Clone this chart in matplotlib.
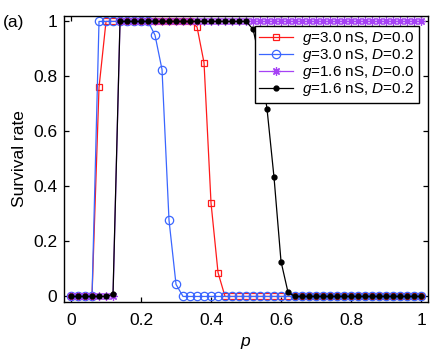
import matplotlib
matplotlib.use("Agg")
import matplotlib.pyplot as plt

plt.rcParams['font.family'] = ['Liberation Sans', 'DejaVu Sans']
plt.rcParams['mathtext.fontset'] = 'custom'
plt.rcParams['mathtext.it'] = 'Liberation Sans:italic'
plt.rcParams['mathtext.rm'] = 'Liberation Sans'

p = [0.00, 0.02, 0.04, 0.06, 0.08, 0.10, 0.12, 0.14, 0.16, 0.18,
     0.20, 0.22, 0.24, 0.26, 0.28, 0.30, 0.32, 0.34, 0.36, 0.38,
     0.40, 0.42, 0.44, 0.46, 0.48, 0.50, 0.52, 0.54, 0.56, 0.58,
     0.60, 0.62, 0.64, 0.66, 0.68, 0.70, 0.72, 0.74, 0.76, 0.78,
     0.80, 0.82, 0.84, 0.86, 0.88, 0.90, 0.92, 0.94, 0.96, 0.98, 1.00]

# g=3.0 nS, D=0.0
red = [0, 0, 0, 0, 0.76, 1, 1, 1, 1, 1,
       1, 1, 1, 1, 1, 1, 1, 1, 0.98, 0.85,
       0.34, 0.087, 0, 0, 0, 0, 0, 0, 0, 0,
       0, 0, 0, 0, 0, 0, 0, 0, 0, 0,
       0, 0, 0, 0, 0, 0, 0, 0, 0, 0, 0]
# g=3.0 nS, D=0.2
blue = [0, 0, 0, 0, 1, 1, 1, 1, 1, 1,
        1, 1, 0.95, 0.825, 0.277, 0.044, 0, 0, 0, 0,
        0, 0, 0, 0, 0, 0, 0, 0, 0, 0,
        0, 0, 0, 0, 0, 0, 0, 0, 0, 0,
        0, 0, 0, 0, 0, 0, 0, 0, 0, 0, 0]
# g=1.6 nS, D=0.0
purple = [0, 0, 0, 0, 0, 0, 0, 1, 1, 1,
          1, 1, 1, 1, 1, 1, 1, 1, 1, 1,
          1, 1, 1, 1, 1, 1, 1, 1, 1, 1,
          1, 1, 1, 1, 1, 1, 1, 1, 1, 1,
          1, 1, 1, 1, 1, 1, 1, 1, 1, 1, 1]
# g=1.6 nS, D=0.2
black = [0, 0, 0, 0, 0, 0, 0.008, 1, 1, 1,
         1, 1, 1, 1, 1, 1, 1, 1, 1, 1,
         1, 1, 1, 1, 1, 1, 0.972, 0.86, 0.682, 0.433,
         0.127, 0.015, 0, 0, 0, 0, 0, 0, 0, 0,
         0, 0, 0, 0, 0, 0, 0, 0, 0, 0, 0]

labels = [r'$g$=3.0 nS, $D$=0.0', r'$g$=3.0 nS, $D$=0.2',
          r'$g$=1.6 nS, $D$=0.0', r'$g$=1.6 nS, $D$=0.2']
xticks = [0, 0.2, 0.4, 0.6, 0.8, 1]
xticklabels = ['0', '0.2', '0.4', '0.6', '0.8', '1']
yticks = [0, 0.2, 0.4, 0.6, 0.8, 1]
yticklabels = ['0', '0.2', '0.4', '0.6', '0.8', '1']

fig = plt.figure(figsize=(4.43, 3.54), dpi=100)
ax = fig.add_axes([0.1445, 0.147, 0.8217, 0.808])

lw = 0.9
ax.plot(p, red, color='#ff1a1a', lw=lw, marker='s', ms=5.0, mfc='none',
        mec='#ff1a1a', mew=0.9, label=labels[0])
ax.plot(p, blue, color='#3a66ff', lw=lw, marker='o', ms=6.0, mfc='none',
        mec='#3a66ff', mew=0.9, label=labels[1])
ax.plot(p, purple, color='#a642f5', lw=lw, marker=(8, 2, 0), ms=6.0,
        mec='#a642f5', mew=0.9, label=labels[2])
ax.plot(p, black, color='black', lw=lw, marker='o', ms=3.5,
        mfc='black', mec='black', label=labels[3])

ax.set_xlim(-0.02, 1.02)
ax.set_ylim(-0.02, 1.02)
ax.set_xticks(xticks)
ax.set_xticklabels(xticklabels)
ax.set_yticks(yticks)
ax.set_yticklabels(yticklabels)
ax.tick_params(direction='in', top=True, right=True, length=3.5,
               width=0.9, labelsize=12.5)
ax.tick_params(axis='x', pad=8)
ax.tick_params(axis='y', pad=5)
for s in ax.spines.values():
    s.set_linewidth(1.0)

ax.set_xlabel(r'$p$', fontsize=12.5, labelpad=5)
ax.set_ylabel('Survival rate', fontsize=12.5, labelpad=4.5)

fig.text(14 / 443, 1 - 22 / 354, '(a)', fontsize=12.5, ha='center', va='center')

leg = ax.legend(loc='upper right', bbox_to_anchor=(0.976, 0.966),
                borderaxespad=0, fontsize=11, frameon=True, fancybox=False,
                framealpha=1, edgecolor='black', labelspacing=0.0,
                handlelength=2.2, handletextpad=0.6, borderpad=0.3)
leg.get_frame().set_linewidth(1.0)

fig.savefig('out.png', dpi=100)
